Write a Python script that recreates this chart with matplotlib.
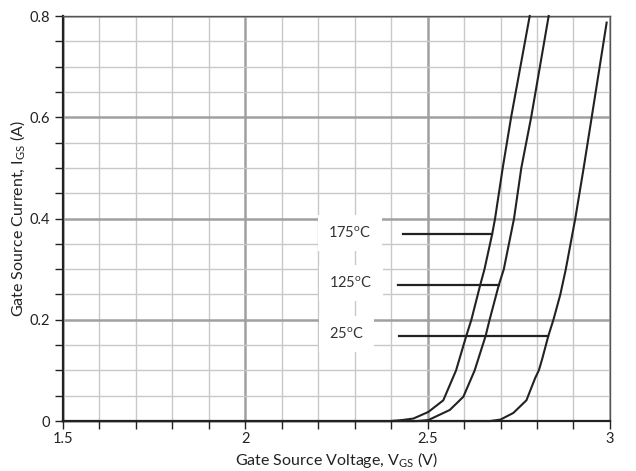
import matplotlib
matplotlib.use("Agg")
import matplotlib.pyplot as plt
from matplotlib.ticker import MultipleLocator

plt.rcParams['font.family'] = ['Lato', 'DejaVu Sans']
plt.rcParams['mathtext.fontset'] = 'custom'
plt.rcParams['mathtext.rm'] = 'Lato'

# Gate source current vs. gate source voltage
V_175 = [1.5, 2.397, 2.430, 2.461, 2.502, 2.543, 2.578, 2.606, 2.620, 2.644, 2.656, 2.677, 2.685, 2.706, 2.729, 2.780]
I_175 = [0.0, 0.0, 0.002, 0.005, 0.018, 0.041, 0.100, 0.168, 0.200, 0.268, 0.300, 0.369, 0.400, 0.500, 0.600, 0.800]

V_125 = [1.5, 2.470, 2.502, 2.561, 2.598, 2.629, 2.659, 2.670, 2.695, 2.709, 2.737, 2.757, 2.784, 2.832]
I_125 = [0.0, 0.0, 0.002, 0.022, 0.048, 0.100, 0.168, 0.200, 0.268, 0.300, 0.400, 0.500, 0.600, 0.800]

V_25 = [1.5, 2.671, 2.700, 2.735, 2.771, 2.795, 2.805, 2.814, 2.831, 2.845, 2.864, 2.879, 2.905, 2.928, 2.950, 2.991]
I_25 = [0.0, 0.0, 0.003, 0.016, 0.041, 0.085, 0.100, 0.122, 0.168, 0.200, 0.250, 0.300, 0.400, 0.500, 0.600, 0.787]

# temperature callouts: label, text position, leader line (x start, x end, y)
Labels = ["175$^{\\mathregular{o}}$C", "125$^{\\mathregular{o}}$C", "25$^{\\mathregular{o}}$C"]
LabelX = [2.287, 2.289, 2.278]
LabelY = [0.372, 0.273, 0.172]
LeaderX0 = [2.433, 2.419, 2.422]
LeaderX1 = [2.677, 2.695, 2.831]
LeaderY = [0.369, 0.268, 0.168]

XTicks = [1.5, 2, 2.5, 3]
XTickLabels = ["1.5", "2", "2.5", "3"]
YTicks = [0, 0.2, 0.4, 0.6, 0.8]
YTickLabels = ["0", "0.2", "0.4", "0.6", "0.8"]

fig = plt.figure(figsize=(6.36, 4.71), dpi=100)
ax = fig.add_axes([0.099, 0.106, 0.860, 0.860])

ax.set_xlim(1.5, 3)
ax.set_ylim(0, 0.8)
ax.set_xticks(XTicks)
ax.set_xticklabels(XTickLabels)
ax.set_yticks(YTicks)
ax.set_yticklabels(YTickLabels)
ax.xaxis.set_minor_locator(MultipleLocator(0.1))
ax.yaxis.set_minor_locator(MultipleLocator(0.05))

ax.grid(which='minor', color='#c8c8c8', linewidth=1.0, zorder=0)
ax.grid(which='major', color='#a0a0a0', linewidth=1.8, zorder=0)
ax.set_axisbelow(True)

ax.tick_params(which='both', direction='out', length=6, width=1, color='#222222',
               labelsize=10.5, labelcolor='#222222')
ax.tick_params(axis='x', pad=2)

for s in ['left', 'bottom']:
    ax.spines[s].set_color('#222222')
    ax.spines[s].set_linewidth(1.6)
for s in ['top', 'right']:
    ax.spines[s].set_color('#555555')
    ax.spines[s].set_linewidth(1.0)

for V, I in [(V_175, I_175), (V_125, I_125), (V_25, I_25)]:
    ax.plot(V, I, color='#222222', linewidth=1.5, zorder=4, clip_on=False)

for i in range(len(Labels)):
    ax.plot([LeaderX0[i], LeaderX1[i]], [LeaderY[i], LeaderY[i]], color='#222222', linewidth=1.6, zorder=4)
    ax.text(LabelX[i], LabelY[i], Labels[i], fontsize=10.5, color='#333333',
            ha='center', va='center', zorder=3,
            bbox=dict(boxstyle='square,pad=0.7', facecolor='white', edgecolor='none'))

ax.set_xlabel("Gate Source Voltage, V$_{\\mathregular{GS}}$ (V)", fontsize=11.5, color='#222222')
ax.set_ylabel("Gate Source Current, I$_{\\mathregular{GS}}$ (A)", fontsize=11.5, color='#222222')
ax.xaxis.set_label_coords(0.5, -0.096)
ax.yaxis.set_label_coords(-0.082, 0.5)
ax.xaxis.label.set_va('center')
ax.yaxis.label.set_va('center')

fig.savefig("out.png", dpi=100)
